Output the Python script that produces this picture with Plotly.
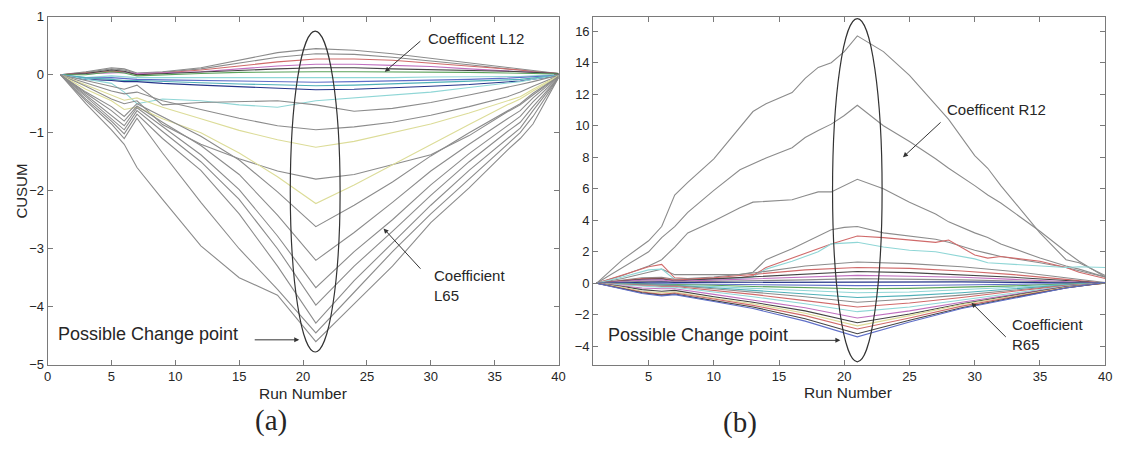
import plotly.graph_objects as go

# ---------------- panel (a): left-side coefficients ----------------
run_a = [1, 3, 5, 6, 7, 9, 12, 15, 18, 21, 24, 27, 30, 33, 36, 37, 38, 40]

a_g1 = [0, -0.5, -0.95, -1.2, -1.6, -2.15, -2.95, -3.5, -3.8, -4.6, -3.95, -3.3, -2.55, -1.95, -1.3, -1.1, -0.85, -0.05]
a_g2 = [0, -0.45, -0.85, -1.1, -0.75, -1.35, -2.2, -3.0, -3.7, -4.45, -3.75, -3.05, -2.4, -1.8, -1.2, -1.0, -0.72, -0.05]
a_g3 = [0, -0.42, -0.8, -1.02, -0.68, -1.1, -1.65, -2.4, -3.3, -4.28, -3.55, -2.9, -2.25, -1.65, -1.1, -0.92, -0.62, -0.05]
a_g4 = [0, -0.38, -0.75, -0.95, -0.62, -0.98, -1.5, -2.15, -3.0, -3.97, -3.3, -2.7, -2.08, -1.5, -0.98, -0.82, -0.55, -0.05]
a_g5 = [0, -0.35, -0.7, -0.88, -0.57, -0.9, -1.38, -1.98, -2.78, -3.67, -3.05, -2.5, -1.9, -1.36, -0.88, -0.72, -0.47, -0.04]
a_g6 = [0, -0.32, -0.62, -0.8, -0.54, -0.82, -1.22, -1.72, -2.42, -3.2, -2.72, -2.2, -1.66, -1.2, -0.76, -0.62, -0.4, -0.03]
a_g7 = [0, -0.3, -0.55, -0.72, -0.5, -0.72, -1.06, -1.47, -2.02, -2.62, -2.25, -1.85, -1.4, -1.0, -0.62, -0.5, -0.32, -0.03]
a_y1 = [0, -0.25, -0.45, -0.6, -0.56, -0.76, -1.0, -1.35, -1.76, -2.22, -1.9, -1.55, -1.2, -0.86, -0.52, -0.42, -0.28, -0.03]
a_b1 = [0, -0.2, -0.42, -0.5, -0.45, -0.86, -1.2, -1.45, -1.66, -1.8, -1.72, -1.55, -1.38, -1.05, -0.64, -0.52, -0.35, -0.03]
a_y2 = [0, -0.18, -0.36, -0.44, -0.4, -0.56, -0.76, -0.96, -1.12, -1.25, -1.15, -1.0, -0.85, -0.66, -0.45, -0.38, -0.25, -0.02]
a_g8 = [0, -0.14, -0.28, -0.33, -0.3, -0.45, -0.6, -0.75, -0.88, -0.95, -0.9, -0.82, -0.7, -0.55, -0.38, -0.3, -0.2, -0.02]
a_w1 = [0, -0.1, -0.2, -0.25, -0.18, -0.52, -0.48, -0.47, -0.45, -0.52, -0.63, -0.58, -0.48, -0.35, -0.22, -0.17, -0.12, -0.01]
a_c1 = [0, -0.08, -0.15, -0.3, -0.5, -0.42, -0.45, -0.52, -0.56, -0.45, -0.4, -0.35, -0.3, -0.22, -0.15, -0.12, -0.08, -0.01]
a_n1 = [0, 0.05, 0.12, 0.1, 0.03, 0.05, 0.12, 0.25, 0.38, 0.45, 0.42, 0.36, 0.28, 0.2, 0.12, 0.1, 0.07, 0.02]
a_n2 = [0, 0.04, 0.1, 0.08, 0.02, 0.04, 0.1, 0.2, 0.3, 0.36, 0.35, 0.3, 0.24, 0.17, 0.1, 0.08, 0.06, 0.02]
a_n3 = [0, 0.03, 0.06, 0.05, 0.0, 0.03, 0.08, 0.15, 0.22, 0.27, 0.27, 0.25, 0.2, 0.15, 0.1, 0.08, 0.05, 0.02]
a_n4 = [0, 0.02, 0.08, 0.06, 0.0, 0.02, 0.05, 0.08, 0.1, 0.12, 0.12, 0.1, 0.09, 0.08, 0.06, 0.05, 0.04, 0.02]
a_n5 = [0, 0.0, 0.05, 0.03, -0.02, 0.0, 0.02, 0.04, 0.05, 0.05, 0.05, 0.05, 0.04, 0.04, 0.03, 0.03, 0.02, 0.01]
a_n6 = [0, -0.05, -0.02, -0.04, -0.05, -0.05, -0.05, -0.06, -0.06, -0.06, -0.05, -0.05, -0.04, -0.04, -0.03, -0.03, -0.02, 0]
a_n7 = [0, -0.06, -0.05, -0.07, -0.08, -0.09, -0.1, -0.11, -0.12, -0.13, -0.12, -0.11, -0.1, -0.08, -0.06, -0.05, -0.04, -0.01]
a_n8 = [0, -0.05, -0.08, -0.1, -0.1, -0.12, -0.14, -0.16, -0.18, -0.19, -0.18, -0.16, -0.14, -0.12, -0.09, -0.08, -0.06, -0.01]
a_n9 = [0, -0.08, -0.1, -0.12, -0.12, -0.15, -0.18, -0.21, -0.24, -0.26, -0.25, -0.23, -0.2, -0.17, -0.13, -0.11, -0.08, -0.02]
a_n10 = [0, 0.02, 0.04, 0.04, 0.02, 0.03, 0.05, 0.1, 0.15, 0.18, 0.18, 0.16, 0.14, 0.1, 0.07, 0.06, 0.04, 0.01]

# ---------------- panel (b): right-side coefficients ----------------
run_b_top = [1, 3, 5, 6, 7, 8, 10, 12, 13, 14, 16, 17, 18, 19, 20, 21, 23, 25, 27, 28, 30, 31, 32, 35, 37, 38, 40]

b_r1 = [0, 1.5, 2.7, 3.6, 5.6, 6.4, 7.9, 9.9, 10.9, 11.4, 12.1, 13.0, 13.7, 14.0, 14.7, 15.7, 14.7, 13.2, 11.3, 10.4, 8.1, 7.3, 6.2, 3.2, 1.5, 1.3, 0.5]
b_r2 = [0, 1.0, 2.0, 2.9, 3.6, 4.5, 5.9, 7.2, 7.6, 7.95, 8.6, 9.25, 9.7, 10.1, 10.65, 11.3, 10.0, 9.0, 7.9, 7.3, 6.2, 5.6, 5.1, 3.3, 2.0, 1.4, 0.4]
b_r3 = [0, 0.5, 1.1, 1.5, 2.3, 3.2, 3.95, 4.8, 5.15, 5.2, 5.3, 5.55, 5.8, 5.8, 6.2, 6.6, 6.0, 5.15, 4.4, 3.9, 3.2, 2.9, 2.5, 1.6, 1.1, 0.9, 0.4]
b_r4 = [0, 0.3, 0.7, 0.9, 0.55, 0.55, 0.55, 0.55, 0.7, 1.5, 2.2, 2.6, 3.0, 3.4, 3.55, 3.6, 3.2, 3.0, 2.8, 2.6, 2.1, 1.9, 1.7, 1.3, 1.0, 0.8, 0.4]
b_r5 = [0, 0.5, 1.05, 1.2, 0.35, 0.3, 0.3, 0.35, 0.5, 1.0, 1.6, 1.9, 2.2, 2.5, 2.75, 3.0, 2.9, 2.75, 2.6, 2.75, 1.8, 1.6, 1.7, 1.4, 1.0, 0.7, 0.3]
b_r6 = [0, 0.4, 0.85, 0.9, 0.25, 0.25, 0.25, 0.3, 0.4, 0.9, 1.4, 1.7, 2.0, 2.5, 2.55, 2.6, 2.3, 2.1, 2.0, 1.85, 1.55, 1.3, 1.25, 1.1, 1.0, 1.05, 1.0]

run_b = [1, 3, 4.5, 6, 7, 10, 13, 17, 21, 25, 29, 33, 37, 40]

b_nb1 = [0, -0.35, -0.65, -0.8, -0.72, -1.15, -1.6, -2.4, -3.4, -2.45, -1.6, -0.95, -0.3, 0.05]
b_nb2 = [0, -0.32, -0.6, -0.75, -0.68, -1.1, -1.5, -2.25, -3.2, -2.35, -1.55, -0.9, -0.3, 0.03]
b_nb3 = [0, -0.3, -0.55, -0.7, -0.62, -1.0, -1.4, -2.05, -2.9, -2.2, -1.45, -0.85, -0.28, 0.02]
b_nb4 = [0, -0.25, -0.5, -0.6, -0.55, -0.95, -1.3, -1.9, -2.7, -2.05, -1.35, -0.8, -0.25, 0.0]
b_nb5 = [0, -0.2, -0.4, -0.5, -0.45, -0.85, -1.2, -1.75, -2.5, -1.95, -1.3, -0.75, -0.22, 0.0]
b_nb6 = [0, -0.15, -0.3, -0.35, -0.35, -0.7, -1.05, -1.55, -2.2, -1.75, -1.2, -0.7, -0.2, 0.0]
b_nb7 = [0, -0.1, -0.2, -0.25, -0.25, -0.55, -0.85, -1.3, -1.8, -1.5, -1.05, -0.6, -0.18, 0.0]
b_nb8 = [0, -0.08, -0.15, -0.2, -0.2, -0.45, -0.7, -1.1, -1.5, -1.25, -0.9, -0.5, -0.15, 0.0]
b_nb9 = [0, -0.05, -0.1, -0.15, -0.15, -0.35, -0.55, -0.85, -1.2, -1.0, -0.75, -0.42, -0.12, 0.0]
b_nb10 = [0, -0.05, -0.1, -0.12, -0.12, -0.28, -0.45, -0.68, -0.9, -0.78, -0.6, -0.35, -0.1, 0.0]
b_nb11 = [0, -0.04, -0.08, -0.1, -0.1, -0.2, -0.32, -0.47, -0.6, -0.55, -0.42, -0.25, -0.08, 0.0]
b_nb12 = [0, -0.02, -0.05, -0.06, -0.06, -0.12, -0.2, -0.28, -0.35, -0.32, -0.25, -0.16, -0.05, 0.0]
b_nb13 = [0, 0.0, -0.02, -0.03, -0.03, -0.06, -0.09, -0.12, -0.15, -0.14, -0.11, -0.07, -0.02, 0.0]
b_pb1 = [0, 0.05, 0.08, 0.08, 0.05, 0.06, 0.07, 0.09, 0.1, 0.1, 0.09, 0.06, 0.03, 0.0]
b_pb2 = [0, 0.08, 0.12, 0.12, 0.08, 0.12, 0.15, 0.22, 0.3, 0.28, 0.22, 0.15, 0.07, 0.0]
b_pb3 = [0, 0.12, 0.2, 0.22, 0.12, 0.2, 0.28, 0.38, 0.5, 0.45, 0.38, 0.25, 0.1, 0.0]
b_pb4 = [0, 0.15, 0.25, 0.28, 0.15, 0.28, 0.4, 0.6, 0.75, 0.68, 0.55, 0.38, 0.18, 0.0]
b_pb5 = [0, 0.18, 0.3, 0.32, 0.2, 0.35, 0.55, 0.85, 1.0, 0.95, 0.78, 0.55, 0.25, 0.0]
b_pb6 = [0, 0.2, 0.35, 0.38, 0.25, 0.4, 0.65, 1.1, 1.35, 1.25, 1.05, 0.75, 0.35, 0.05]

# ---------------- styling ----------------
GRAY = "#8c8c8c"
DARK = "#454545"
BLUE = "#5f6fc8"
NAVY = "#25358a"
CYAN = "#8fd6d6"
TEAL = "#4fb0b8"
GREEN = "#5aa35a"
RED = "#d06a6a"
MAGENTA = "#c070c0"
YELLOW = "#dcdc98"

SANS = "Liberation Sans, Arial, sans-serif"
SERIF = "Liberation Serif, Times New Roman, serif"
AXIS_COLOR = "#7a7a7a"
TEXT_COLOR = "#262626"

series_a = [
    (a_n1, GRAY), (a_n2, GRAY), (a_n3, RED), (a_n10, MAGENTA), (a_n4, DARK),
    (a_n5, GREEN), (a_n6, CYAN), (a_n7, BLUE), (a_n8, TEAL), (a_n9, NAVY),
    (a_c1, CYAN), (a_w1, GRAY), (a_g8, GRAY), (a_y2, YELLOW), (a_b1, GRAY),
    (a_y1, YELLOW), (a_g7, GRAY), (a_g6, GRAY), (a_g5, GRAY), (a_g4, GRAY),
    (a_g3, GRAY), (a_g2, GRAY), (a_g1, GRAY),
]

series_b_top = [
    (b_r1, GRAY), (b_r2, GRAY), (b_r3, GRAY), (b_r4, GRAY), (b_r5, RED), (b_r6, CYAN),
]

series_b = [
    (b_pb6, GRAY), (b_pb5, RED), (b_pb4, DARK), (b_pb3, MAGENTA), (b_pb2, GRAY),
    (b_pb1, NAVY), (b_nb13, BLUE), (b_nb12, GREEN), (b_nb11, CYAN), (b_nb10, TEAL),
    (b_nb9, GRAY), (b_nb8, RED), (b_nb7, CYAN), (b_nb6, MAGENTA), (b_nb5, DARK),
    (b_nb4, YELLOW), (b_nb3, RED), (b_nb2, DARK), (b_nb1, BLUE),
]

fig = go.Figure()

for ys, col in series_a:
    fig.add_trace(go.Scatter(x=run_a, y=ys, mode="lines", xaxis="x", yaxis="y",
                             line=dict(color=col, width=1.1), hoverinfo="skip"))

for ys, col in series_b_top:
    fig.add_trace(go.Scatter(x=run_b_top, y=ys, mode="lines", xaxis="x2", yaxis="y2",
                             line=dict(color=col, width=1.1), hoverinfo="skip"))

for ys, col in series_b:
    fig.add_trace(go.Scatter(x=run_b, y=ys, mode="lines", xaxis="x2", yaxis="y2",
                             line=dict(color=col, width=1.1), hoverinfo="skip"))

W, H = 1128, 454
ydom = [84 / H, 444 / H]

axis_common = dict(
    showline=True, linecolor=AXIS_COLOR, linewidth=1, mirror="ticks",
    ticks="inside", ticklen=5, tickcolor=AXIS_COLOR, tickwidth=1,
    showgrid=False, zeroline=False,
    tickfont=dict(family=SANS, size=13, color=TEXT_COLOR),
)

fig.update_layout(
    width=W, height=H,
    margin=dict(l=0, r=0, t=0, b=0),
    paper_bgcolor="white", plot_bgcolor="white",
    showlegend=False,
    xaxis=dict(domain=[44 / W, 560 / W], range=[0, 40], anchor="y",
               tickvals=[0, 5, 10, 15, 20, 25, 30, 35, 40], **axis_common),
    yaxis=dict(domain=ydom, range=[-5, 1], anchor="x",
               tickvals=[-5, -4, -3, -2, -1, 0, 1], **axis_common),
    xaxis2=dict(domain=[595 / W, 1112 / W], range=[0.75, 40], anchor="y2",
                tickvals=[5, 10, 15, 20, 25, 30, 35, 40], **axis_common),
    yaxis2=dict(domain=ydom, range=[-5.17, 16.92], anchor="x2",
                tickvals=[-4, -2, 0, 2, 4, 6, 8, 10, 12, 14, 16], **axis_common),
)

# Ellipses marking the change point
fig.add_shape(type="circle", xref="x", yref="y", x0=19.0, x1=22.9, y0=-4.78, y1=0.75,
              line=dict(color="#333333", width=1.2))
fig.add_shape(type="circle", xref="x2", yref="y2", x0=19.1, x1=22.9, y0=-4.98, y1=16.8,
              line=dict(color="#333333", width=1.2))


def arrow(xref, yref, tail, head):
    fig.add_annotation(x=head[0], y=head[1], ax=tail[0], ay=tail[1],
                       xref=xref, yref=yref, axref=xref, ayref=yref,
                       text="", showarrow=True, arrowhead=2, arrowsize=1,
                       arrowwidth=1, arrowcolor="#333333", standoff=0, startstandoff=0)


def label(xref, yref, x, y, text, size, xanchor="left", align="left", family=SANS):
    fig.add_annotation(x=x, y=y, xref=xref, yref=yref, text=text, showarrow=False,
                       xanchor=xanchor, yanchor="middle", align=align,
                       font=dict(family=family, size=size, color=TEXT_COLOR))


# Panel (a) annotations
label("x", "y", 29.6, 0.63, "Coefficent L12", 15)
arrow("x", "y", (29.3, 0.6), (26.4, 0.05))
label("x", "y", 30.1, -3.63, "Coefficient<br>L65", 15)
arrow("x", "y", (29.3, -3.37), (26.3, -2.65))
label("x", "y", 0.65, -4.47, "Possible Change point", 18)
arrow("x", "y", (16.1, -4.57), (19.7, -4.57))

# Panel (b) annotations
label("x2", "y2", 27.7, 11.0, "Coefficent R12", 15)
arrow("x2", "y2", (27.5, 10.3), (24.5, 8.0))
label("x2", "y2", 32.7, -3.25, "Coefficient<br>R65", 15)
arrow("x2", "y2", (32.5, -3.5), (29.75, -1.23))
label("x2", "y2", 1.7, -3.31, "Possible Change point", 18)
arrow("x2", "y2", (15.7, -3.62), (19.7, -3.62))

# Axis titles and panel captions
label("paper", "paper", 302 / W, 1 - 400 / H, "Run Number", 15.5, xanchor="center", align="center")
label("paper", "paper", 852 / W, 1 - 399 / H, "Run Number", 15.5, xanchor="center", align="center")
fig.add_annotation(x=18 / W, y=1 - 190 / H, xref="paper", yref="paper", text="CUSUM",
                   showarrow=False, textangle=-90, xanchor="center", yanchor="middle",
                   font=dict(family=SANS, size=15, color=TEXT_COLOR))
label("paper", "paper", 270 / W, 1 - 428 / H, "(a)", 29, xanchor="center", align="center", family=SERIF)
label("paper", "paper", 743 / W, 1 - 430 / H, "(b)", 29, xanchor="center", align="center", family=SERIF)

fig.write_html("out.html")
